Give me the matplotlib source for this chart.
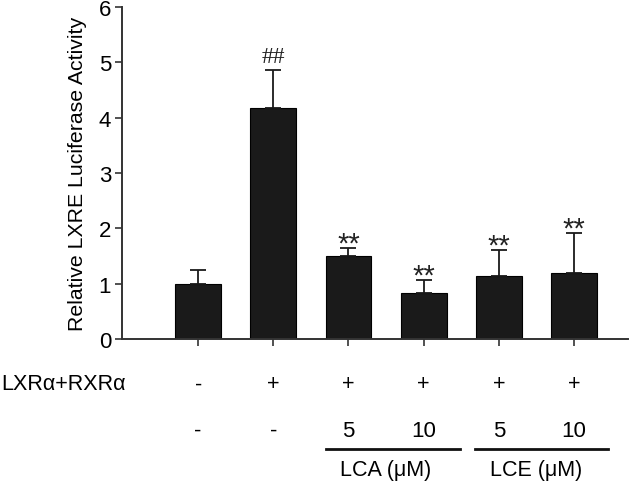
import matplotlib
matplotlib.use("Agg")
import matplotlib.pyplot as plt

plt.rcParams['font.family'] = ['Liberation Sans', 'DejaVu Sans']

# data
groups = ["ctrl", "LXR", "LCA5", "LCA10", "LCE5", "LCE10"]
means = [1.00, 4.17, 1.50, 0.84, 1.13, 1.20]
errs = [0.24, 0.70, 0.14, 0.22, 0.47, 0.72]
marks = ["", "##", "**", "**", "**", "**"]
row1 = ["-", "+", "+", "+", "+", "+"]
row2 = ["-", "-", "5", "10", "5", "10"]
yticks = [0, 1, 2, 3, 4, 5, 6]

fig = plt.figure(figsize=(6.3, 4.85), dpi=100)
ax = fig.add_axes([0.194, 0.299, 0.803, 0.6845])

x = list(range(len(groups)))
ax.bar(x, means, width=0.61, color="#1a1a1a", edgecolor="black", linewidth=0.8)
ax.errorbar(x, means, yerr=[[0]*len(errs), errs], fmt="none", ecolor="#1a1a1a",
            elinewidth=1.3, capsize=6, capthick=1.3)

for i in x:
    top = means[i] + errs[i]
    if marks[i] == "##":
        ax.text(i, top + 0.04, marks[i], ha="center", va="bottom",
                fontsize=17, family="Liberation Serif", color="#222222")
    elif marks[i]:
        ax.text(i, top - 0.06, marks[i], ha="center", va="baseline",
                fontsize=21, color="#222222")

ax.set_xlim(-1.01, 5.72)
ax.set_ylim(0, 6)
ax.set_yticks(yticks)
ax.set_xticks(x)
ax.set_xticklabels([])
for s in ax.spines.values():
    s.set_linewidth(1.4)
    s.set_color("#333333")
ax.tick_params(axis="y", labelsize=16, length=5, width=1.2, pad=3, color="#333333")
ax.tick_params(axis="x", length=5, width=1.2, direction="out", color="#333333")
ax.spines["top"].set_visible(False)
ax.spines["right"].set_visible(False)
ax.set_ylabel("Relative LXRE Luciferase Activity", fontsize=15.3, labelpad=8)

trans = ax.get_xaxis_transform()
fig.text(0.002, 1 - 385 / 485, "LXR\u03b1+RXR\u03b1", ha="left", va="center", fontsize=15.5)
for i in x:
    ax.text(i, -0.135, row1[i], transform=trans, ha="center", va="center", fontsize=15.5)
    ax.text(i, -0.275, row2[i], transform=trans, ha="center", va="center", fontsize=16)

for a, b, c, lab in [(1.70, 3.48, 2.5, "LCA (\u03bcM)"), (3.68, 5.45, 4.5, "LCE (\u03bcM)")]:
    ax.plot([a, b], [-0.332, -0.332], transform=trans, color="#111111", lw=2, clip_on=False)
    ax.text(c, -0.393, lab, transform=trans, ha="center", va="center", fontsize=15.5)

fig.savefig("out.png", dpi=100)
